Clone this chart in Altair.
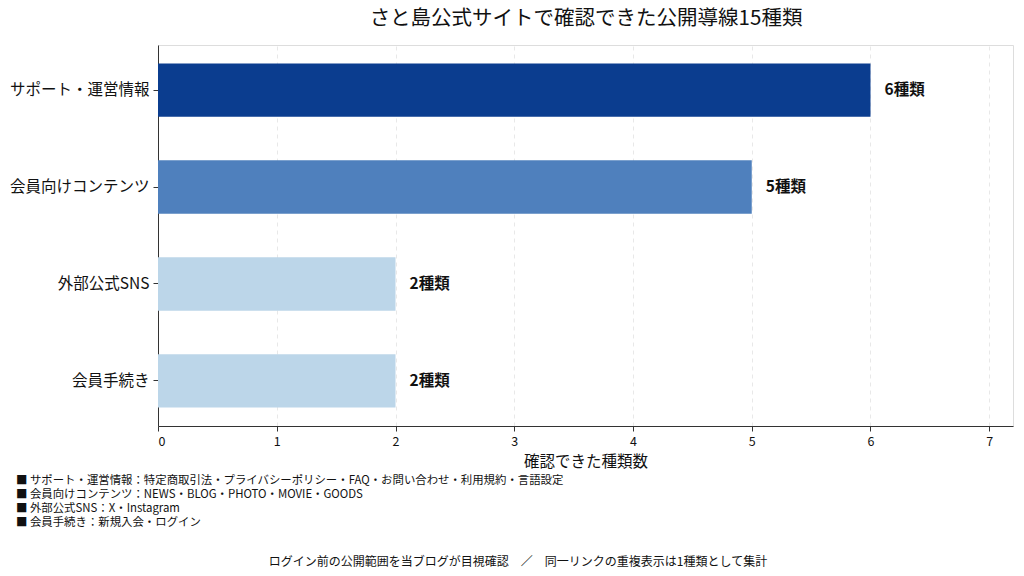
import altair as alt
import pandas as pd

categories = ["サポート・運営情報", "会員向けコンテンツ", "外部公式SNS", "会員手続き"]
values = [6, 5, 2, 2]
labels = ["6種類", "5種類", "2種類", "2種類"]
colors = ["#0b3d8f", "#4f80bd", "#bcd6e9", "#bcd6e9"]

title = "さと島公式サイトで確認できた公開導線15種類"
x_title = "確認できた種類数"
notes = [
    "■ サポート・運営情報：特定商取引法・プライバシーポリシー・FAQ・お問い合わせ・利用規約・言語設定",
    "■ 会員向けコンテンツ：NEWS・BLOG・PHOTO・MOVIE・GOODS",
    "■ 外部公式SNS：X・Instagram",
    "■ 会員手続き：新規入会・ログイン",
]
footer = "ログイン前の公開範囲を当ブログが目視確認　／　同一リンクの重複表示は1種類として集計"

FONT = "Noto Sans CJK JP"
W, H = 855, 381
LEFT, TOP = 158, 45

df = pd.DataFrame({"cat": categories, "val": values, "label": labels, "color": colors})

x = alt.X("val:Q", scale=alt.Scale(domain=[0, 7.2], nice=False),
          axis=alt.Axis(values=list(range(8)), title=x_title, grid=True,
                        gridDash=[4, 4], gridColor="#e8e8e8", gridWidth=1,
                        labelFontSize=12.5, titleFontSize=15.5, labelColor="#111",
                        titleColor="#111", titleFontWeight="normal",
                        domainColor="#333", tickColor="#333", labelPadding=4,
                        titlePadding=7, labelFont=FONT, titleFont=FONT, format="d"))
y = alt.Y("cat:N", sort=categories,
          scale=alt.Scale(paddingInner=0.45, paddingOuter=0.19),
          axis=alt.Axis(title=None, labelFontSize=15.5, labelColor="#111",
                        domainColor="#333", tickColor="#333", labelPadding=4,
                        labelFont=FONT, labelLimit=300))

bars = alt.Chart(df).mark_bar().encode(
    x=x, y=y, color=alt.Color("color:N", scale=None))

text = alt.Chart(df).mark_text(align="left", dx=14, fontSize=15.5,
                               fontWeight="bold", font=FONT, color="#111").encode(
    x="val:Q", y=alt.Y("cat:N", sort=categories), text="label:N")

title_mark = alt.Chart(pd.DataFrame({"t": [title]})).mark_text(
    fontSize=20.5, font=FONT, color="#111", align="center", baseline="middle").encode(
    x=alt.value(586 - LEFT), y=alt.value(19 - TOP), text="t:N")

notes_df = pd.DataFrame({"t": notes, "i": list(range(len(notes)))})
notes_df["yy"] = [481 - TOP + 14 * i for i in range(len(notes))]
notes_mark = alt.Chart(notes_df).mark_text(
    fontSize=11.4, font=FONT, color="#111", align="left", baseline="middle").encode(
    x=alt.value(16 - LEFT), y=alt.Y("yy:Q", scale=None), text="t:N")

footer_mark = alt.Chart(pd.DataFrame({"t": [footer]})).mark_text(
    fontSize=12, font=FONT, color="#111", align="center", baseline="middle").encode(
    x=alt.value(518 - LEFT), y=alt.value(562 - TOP), text="t:N")

chart = alt.layer(bars, text, title_mark, notes_mark, footer_mark).properties(
    width=W, height=H,
    autosize=alt.AutoSizeParams(type="none"),
    padding={"left": LEFT, "top": TOP, "right": 1024 - LEFT - W, "bottom": 576 - TOP - H},
).configure_view(stroke=None).configure(background="white")

chart.save("out.html", embed_options={"renderer": "svg", "actions": False})
